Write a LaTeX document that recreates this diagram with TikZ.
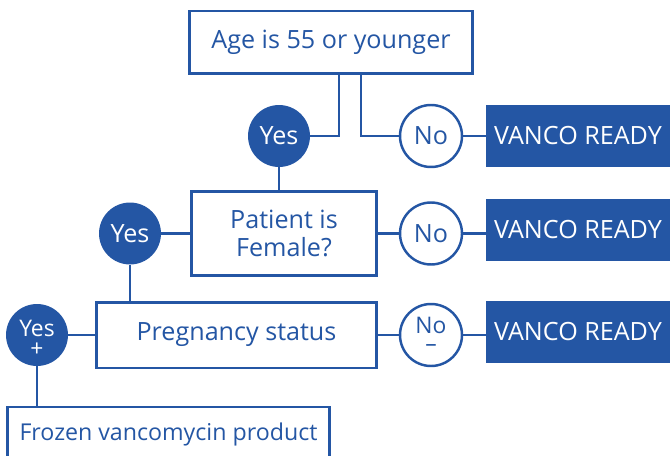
\documentclass[tikz,border=0pt]{standalone}
\usepackage{fontspec}
\setmainfont{Open Sans}
\usepackage{xcolor}
\definecolor{vblue}{RGB}{36, 86, 164}

\begin{document}
\begin{tikzpicture}[
    x=0.02cm, y=-0.02cm,
    every node/.style={font=\fontsize{14.3}{16}\selectfont, text=vblue},
    box/.style={rectangle, draw=vblue, line width=1.7pt, fill=white, inner sep=0pt, align=center},
    ready/.style={rectangle, fill=vblue, text=white, inner sep=0pt, minimum width=3.68cm, minimum height=1.24cm},
    yes/.style={circle, fill=vblue, text=white, inner sep=0pt, minimum size=1.24cm, align=center},
    no/.style={circle, draw=vblue, line width=1.4pt, fill=white, inner sep=0pt, minimum size=1.24cm, align=center},
    link/.style={draw=vblue, line width=1.25pt}
]
\clip (0,0) rectangle (670,456);

% Nodes
\node[box, minimum width=5.68cm, minimum height=1.26cm] (age) at (331,42.5) {Age is 55 or younger};
\node[box, minimum width=3.72cm, minimum height=1.70cm] (female) at (284,233.5) {Patient is\\Female?};
\node[box, minimum width=5.62cm, minimum height=1.32cm] (preg) at (236.5,335) {Pregnancy status};
\node[box, minimum width=6.46cm, minimum height=1.08cm, font=\fontsize{13.2}{16}\selectfont] (frozen) at (168.5,434) {Frozen vancomycin product};

\node[yes] (yes1) at (279,136) {Yes};
\node[yes] (yes2) at (130,233.5) {Yes};
\node[yes, font=\fontsize{13}{11}\selectfont] (yes3) at (37,335)
  {\raisebox{-12.5pt}[0pt][0pt]{\parbox[b]{1cm}{\centering\baselineskip=11.5pt Yes\\+}}};

\node[no] (no1) at (431,136) {No};
\node[no] (no2) at (431,233.5) {No};
\node[no, font=\fontsize{13}{11}\selectfont] (no3) at (431,335)
  {\raisebox{-9.5pt}[0pt][0pt]{\parbox[b]{1cm}{\centering\baselineskip=10.5pt No\\--}}};

\node[ready] (ready1) at (578,136) {VANCO READY};
\node[ready] (ready2) at (578,230) {VANCO READY};
\node[ready] (ready3) at (578,332) {VANCO READY};

% Connectors
\draw[link] ([xshift=0.16cm]age.south) |- (yes1.east);
\draw[link] ([xshift=0.6cm]age.south) |- (no1.west);
\draw[link] (no1.east) -- (ready1.west);
\draw[link] (yes1.south) -- (yes1 |- female.north);
\draw[link] (yes2.east) -- (female.west);
\draw[link] (female.east) -- (no2.west);
\draw[link] (no2.east) -- (no2.east -| ready2.west);
\draw[link] (yes2.south) -- (yes2 |- preg.north);
\draw[link] (yes3.east) -- (preg.west);
\draw[link] (preg.east) -- (no3.west);
\draw[link] (no3.east) -- (no3.east -| ready3.west);
\draw[link] (yes3.south) -- (yes3 |- frozen.north);

\end{tikzpicture}
\end{document}
